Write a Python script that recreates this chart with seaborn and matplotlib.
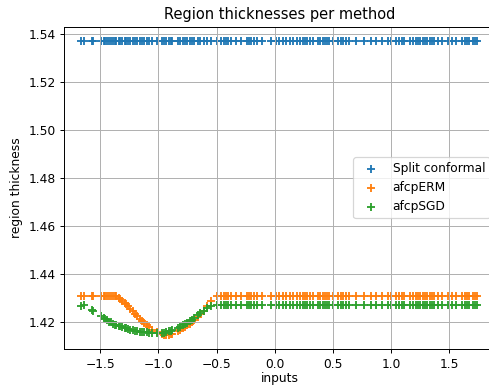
import seaborn as sns
import matplotlib
matplotlib.use("Agg")
import matplotlib.pyplot as plt

inputs = [
    -1.66, -1.64, -1.57, -1.56,
    -1.49, -1.47, -1.46, -1.44, -1.42, -1.41, -1.39, -1.37, -1.36, -1.34, -1.33, -1.31,
    -1.29, -1.28, -1.26, -1.24, -1.22, -1.20, -1.18, -1.16, -1.14, -1.12, -1.10, -1.08,
    -1.05, -1.01,
    -0.97, -0.95, -0.93, -0.91, -0.89, -0.88,
    -0.83, -0.81, -0.79, -0.77, -0.75, -0.73, -0.71, -0.69,
    -0.66, -0.64, -0.61, -0.58, -0.55,
    -0.50, -0.46, -0.44, -0.42, -0.40, -0.38, -0.33, -0.29,
    -0.24, -0.22, -0.20, -0.18, -0.15, -0.11,
    -0.03, 0.01, 0.04, 0.07, 0.10, 0.13,
    0.16, 0.19, 0.22, 0.24, 0.26, 0.28, 0.30, 0.33,
    0.37, 0.39, 0.41, 0.43, 0.45, 0.47, 0.50,
    0.54, 0.57, 0.59, 0.61, 0.64,
    0.70, 0.77, 0.83, 0.87, 0.92,
    0.97, 1.00, 1.04, 1.07, 1.09, 1.11, 1.16,
    1.19, 1.21, 1.23, 1.25, 1.27, 1.29, 1.31, 1.33, 1.35, 1.37, 1.40, 1.44,
    1.49, 1.52, 1.56,
    1.61, 1.63, 1.65, 1.67, 1.70, 1.72, 1.74,
]

split_conformal = [
    1.5371, 1.5371, 1.5371, 1.5371, 1.5371, 1.5371, 1.5371, 1.5371, 1.5371, 1.5371,
    1.5371, 1.5371, 1.5371, 1.5371, 1.5371, 1.5371, 1.5371, 1.5371, 1.5371, 1.5371,
    1.5371, 1.5371, 1.5371, 1.5371, 1.5371, 1.5371, 1.5371, 1.5371, 1.5371, 1.5371,
    1.5371, 1.5371, 1.5371, 1.5371, 1.5371, 1.5371, 1.5371, 1.5371, 1.5371, 1.5371,
    1.5371, 1.5371, 1.5371, 1.5371, 1.5371, 1.5371, 1.5371, 1.5371, 1.5371, 1.5371,
    1.5371, 1.5371, 1.5371, 1.5371, 1.5371, 1.5371, 1.5371, 1.5371, 1.5371, 1.5371,
    1.5371, 1.5371, 1.5371, 1.5371, 1.5371, 1.5371, 1.5371, 1.5371, 1.5371, 1.5371,
    1.5371, 1.5371, 1.5371, 1.5371, 1.5371, 1.5371, 1.5371, 1.5371, 1.5371, 1.5371,
    1.5371, 1.5371, 1.5371, 1.5371, 1.5371, 1.5371, 1.5371, 1.5371, 1.5371, 1.5371,
    1.5371, 1.5371, 1.5371, 1.5371, 1.5371, 1.5371, 1.5371, 1.5371, 1.5371, 1.5371,
    1.5371, 1.5371, 1.5371, 1.5371, 1.5371, 1.5371, 1.5371, 1.5371, 1.5371, 1.5371,
    1.5371, 1.5371, 1.5371, 1.5371, 1.5371, 1.5371, 1.5371, 1.5371, 1.5371, 1.5371,
    1.5371, 1.5371, 1.5371,
]

afcp_erm = [
    1.4308, 1.4308, 1.4308, 1.4308, 1.4308, 1.4308, 1.4308, 1.4308, 1.4308, 1.4308,
    1.4308, 1.4308, 1.4308,
    1.4300, 1.4296, 1.4288, 1.4280, 1.4275, 1.4265, 1.4255, 1.4245, 1.4235, 1.4225,
    1.4215, 1.4205, 1.4195, 1.4186, 1.4178,
    1.4168, 1.4157,
    1.4150, 1.4148, 1.4146, 1.4147, 1.4150, 1.4152,
    1.4163, 1.4168, 1.4174, 1.4180, 1.4187, 1.4194, 1.4201, 1.4209,
    1.4222, 1.4232, 1.4248, 1.4266, 1.4287,
    1.4308, 1.4308, 1.4308, 1.4308, 1.4308, 1.4308, 1.4308, 1.4308, 1.4308, 1.4308,
    1.4308, 1.4308, 1.4308, 1.4308, 1.4308, 1.4308, 1.4308, 1.4308, 1.4308, 1.4308,
    1.4308, 1.4308, 1.4308, 1.4308, 1.4308, 1.4308, 1.4308, 1.4308, 1.4308, 1.4308,
    1.4308, 1.4308, 1.4308, 1.4308, 1.4308, 1.4308, 1.4308, 1.4308, 1.4308, 1.4308,
    1.4308, 1.4308, 1.4308, 1.4308, 1.4308, 1.4308, 1.4308, 1.4308, 1.4308, 1.4308,
    1.4308, 1.4308, 1.4308, 1.4308, 1.4308, 1.4308, 1.4308, 1.4308, 1.4308, 1.4308,
    1.4308, 1.4308, 1.4308, 1.4308, 1.4308, 1.4308, 1.4308, 1.4308, 1.4308, 1.4308,
    1.4308, 1.4308, 1.4308, 1.4308,
]

afcp_sgd = [
    1.4268, 1.4270, 1.4250, 1.4245, 1.4224, 1.4218, 1.4214, 1.4208, 1.4202, 1.4199,
    1.4194, 1.4190, 1.4188, 1.4184, 1.4182, 1.4179, 1.4176, 1.4174, 1.4171, 1.4168,
    1.4166, 1.4164, 1.4162, 1.4160, 1.4159, 1.4158, 1.4157, 1.4156,
    1.4155, 1.4154,
    1.4155, 1.4156, 1.4158, 1.4161, 1.4164, 1.4166,
    1.4176, 1.4181, 1.4186, 1.4192, 1.4198, 1.4204, 1.4210, 1.4217,
    1.4228, 1.4236, 1.4248, 1.4259, 1.4268,
    1.4272, 1.4272, 1.4272, 1.4272, 1.4272, 1.4272, 1.4272, 1.4272, 1.4272, 1.4272,
    1.4272, 1.4272, 1.4272, 1.4272, 1.4272, 1.4272, 1.4272, 1.4272, 1.4272, 1.4272,
    1.4272, 1.4272, 1.4272, 1.4272, 1.4272, 1.4272, 1.4272, 1.4272, 1.4272, 1.4272,
    1.4272, 1.4272, 1.4272, 1.4272, 1.4272, 1.4272, 1.4272, 1.4272, 1.4272, 1.4272,
    1.4272, 1.4272, 1.4272, 1.4272, 1.4272, 1.4272, 1.4272, 1.4272, 1.4272, 1.4272,
    1.4272, 1.4272, 1.4272, 1.4272, 1.4272, 1.4272, 1.4272, 1.4272, 1.4272, 1.4272,
    1.4272, 1.4272, 1.4272, 1.4272, 1.4272, 1.4272, 1.4272, 1.4272, 1.4272, 1.4272,
    1.4272, 1.4272, 1.4272, 1.4272,
]

series = {
    'Split conformal': split_conformal,
    'afcpERM': afcp_erm,
    'afcpSGD': afcp_sgd,
}
colors = ['#1f77b4', '#ff7f0e', '#2ca02c']

DPI = 88
fig = plt.figure(figsize=(489 / DPI, 386 / DPI), dpi=DPI)
# axes runs a little past the right edge, like the cropped original
ax = fig.add_axes([64 / 489, 37 / 386, 432 / 489, 322.5 / 386])

for (name, vals), c in zip(series.items(), colors):
    sns.scatterplot(x=inputs, y=vals, marker='+', s=36, linewidth=1.5,
                    color=c, label=name, ax=ax)

ax.set_xlim(-1.81, 1.90)
ax.set_ylim(1.4088, 1.5431)
ax.set_title('Region thicknesses per method')
ax.set_xlabel('inputs', labelpad=1.5)
ax.set_ylabel('region thickness')
ax.grid(True)
ax.legend(loc='center right')

fig.savefig('out.png', dpi=DPI)
